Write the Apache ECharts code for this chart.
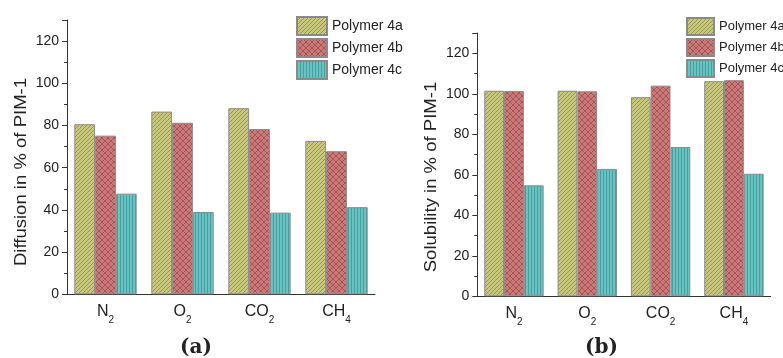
<!DOCTYPE html>
<html>
<head>
<meta charset="utf-8">
<script src="https://cdn.jsdelivr.net/npm/echarts@6/dist/echarts.min.js"></script>
<style>
html,body{margin:0;padding:0;background:#fff;}
#c{width:783px;height:358px;}
</style>
</head>
<body>
<div id="c"></div>
<script>
// ---- data ----
var categories = ['N2', 'O2', 'CO2', 'CH4'];
var seriesNames = ['Polymer 4a', 'Polymer 4b', 'Polymer 4c'];
var diff4a = [80.6, 86.6, 88.2, 72.7];
var diff4b = [75.2, 81.3, 78.3, 67.8];
var diff4c = [47.7, 39.0, 38.7, 41.3];
var sol4a = [101.5, 101.5, 98.3, 106.2];
var sol4b = [101.4, 101.2, 104.0, 106.7];
var sol4c = [54.8, 62.9, 73.7, 60.5];
var yMax = 130;
var yTickStep = 20;
var yNameA = 'Diffusion in % of PIM-1';
var yNameB = 'Solubility in % of PIM-1';
var panelA = '(a)';
var panelB = '(b)';

// ---- patterns ----
function makePattern(base, line, type) {
  var s = type === 'diag' ? 4 : (type === 'cross' ? 6 : 3);
  var c = document.createElement('canvas');
  c.width = s; c.height = s;
  var g = c.getContext('2d');
  g.fillStyle = base; g.fillRect(0, 0, s, s);
  g.strokeStyle = line; g.lineWidth = 1;
  g.beginPath();
  if (type === 'diag' || type === 'cross') {
    g.moveTo(-1, s + 1); g.lineTo(s + 1, -1);
    g.moveTo(-1, 1); g.lineTo(1, -1);
    g.moveTo(s - 1, s + 1); g.lineTo(s + 1, s - 1);
  }
  if (type === 'cross') {
    g.moveTo(-1, -1); g.lineTo(s + 1, s + 1);
    g.moveTo(s - 1, -1); g.lineTo(s + 1, 1);
    g.moveTo(-1, s - 1); g.lineTo(1, s + 1);
  }
  if (type === 'vert') {
    g.moveTo(0.5, 0); g.lineTo(0.5, s);
  }
  g.stroke();
  return { image: c, repeat: 'repeat' };
}
var fills = [
  makePattern('#c8c87c', '#979752', 'diag'),
  makePattern('#cc7878', '#a25656', 'cross'),
  makePattern('#66c3c1', '#46a0a0', 'vert')
];

function catLabel(v) {
  var m = v.match(/^([A-Z]+)(\d)$/);
  return '{n|' + m[1] + '}{s|' + m[2] + '}';
}
var richCat = {
  n: { fontSize: 16, fontFamily: 'Liberation Sans', color: '#222', lineHeight: 20, verticalAlign: 'top' },
  s: { fontSize: 10, fontFamily: 'Liberation Sans', color: '#222', lineHeight: 10, verticalAlign: 'top', padding: [12, 0, 0, 0] }
};

var grids = [
  { left: 67, top: 20, width: 308, height: 274.3 },
  { left: 477.3, top: 33, width: 293.3, height: 263.3 }
];

var xAxes = [], yAxes = [];
[0, 1].forEach(function (i) {
  xAxes.push({
    type: 'category', gridIndex: i, data: categories,
    axisLine: { lineStyle: { color: '#333', width: 1 } },
    axisTick: { alignWithLabel: true, length: 5, lineStyle: { color: '#333' } },
    axisLabel: { formatter: catLabel, rich: richCat, margin: 9, interval: 0 }
  });
  xAxes.push({
    type: 'category', gridIndex: i, data: categories, position: 'bottom',
    axisLine: { show: false },
    axisTick: { alignWithLabel: false, length: 3, lineStyle: { color: '#333' } },
    axisLabel: { show: false }
  });
  yAxes.push({
    type: 'value', gridIndex: i, min: 0, max: yMax, interval: yTickStep,
    axisLine: { show: true, lineStyle: { color: '#333', width: 1 } },
    axisTick: { show: true, length: 5, lineStyle: { color: '#333' } },
    minorTick: { show: true, splitNumber: 2, length: 3, lineStyle: { color: '#333' } },
    splitLine: { show: false },
    axisLabel: { fontSize: 14, fontFamily: 'Liberation Sans', color: '#222', margin: 8, showMaxLabel: false }
  });
});

var dataSets = [[diff4a, diff4b, diff4c], [sol4a, sol4b, sol4c]];
var series = [];
[0, 1].forEach(function (i) {
  for (var k = 0; k < 3; k++) {
    series.push({
      type: 'bar', name: seriesNames[k],
      xAxisIndex: i * 2, yAxisIndex: i,
      data: dataSets[i][k],
      barGap: '0%', barCategoryGap: '19%',
      itemStyle: { color: fills[k], borderColor: '#8a8a8a', borderWidth: 1 },
      emphasis: { disabled: true }
    });
  }
});

var chart = echarts.init(document.getElementById('c'), null, { renderer: 'canvas' });
chart.setOption({
  animation: false,
  backgroundColor: '#fff',
  grid: grids,
  xAxis: xAxes,
  yAxis: yAxes,
  legend: [
    {
      orient: 'vertical', left: 296, top: 16, padding: 0, itemWidth: 30, itemHeight: 18, itemGap: 2,
      data: seriesNames, icon: 'rect',
      textStyle: { fontSize: 14, fontFamily: 'Liberation Sans', color: '#222' }
    },
    {
      orient: 'vertical', left: 686, top: 17, padding: 0, itemWidth: 27, itemHeight: 17, itemGap: 2,
      data: seriesNames, icon: 'rect',
      textStyle: { fontSize: 13, fontFamily: 'Liberation Sans', color: '#222' }
    }
  ],
  graphic: [
    { type: 'text', x: 21, y: 172, rotation: Math.PI / 2, scaleX: 1.09,
      style: { text: yNameA, font: '17px "Liberation Sans"', fill: '#222', align: 'center', verticalAlign: 'middle' } },
    { type: 'text', x: 431, y: 177, rotation: Math.PI / 2, scaleX: 1.09,
      style: { text: yNameB, font: '17px "Liberation Sans"', fill: '#222', align: 'center', verticalAlign: 'middle' } },
    { type: 'text', left: 180, top: 338, style: { text: panelA, font: 'bold 20px "DejaVu Serif"', fill: '#222' } },
    { type: 'text', left: 585, top: 338, style: { text: panelB, font: 'bold 20px "DejaVu Serif"', fill: '#222' } }
  ],
  series: series
});
</script>
</body>
</html>
